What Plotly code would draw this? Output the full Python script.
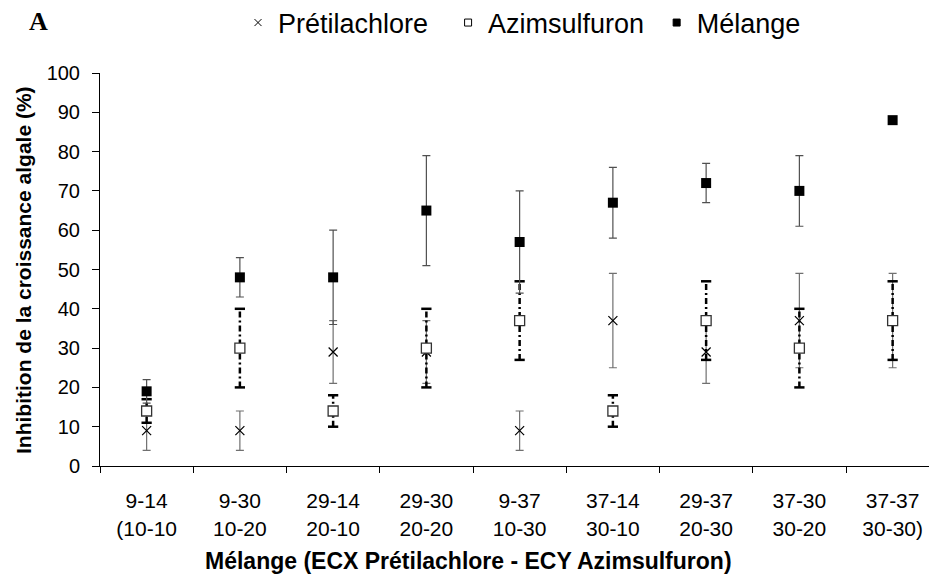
import plotly.graph_objects as go

# --- data ---
categories = ["9-14<br>(10-10", "9-30<br>10-20", "29-14<br>20-10", "29-30<br>20-20",
              "9-37<br>10-30", "37-14<br>30-10", "29-37<br>20-30", "37-30<br>30-20",
              "37-37<br>30-30)"]
pret = [9, 9, 29, 29, 9, 37, 29, 37, 37]
pret_err = [5, 5, 8, 8, 5, 12, 8, 12, 12]
azim = [14, 30, 14, 30, 37, 14, 37, 30, 37]
azim_err = [3, 10, 4, 10, 10, 4, 10, 10, 10]
mel = [19, 48, 48, 65, 57, 67, 72, 70, 88]
mel_err = [3, 5, 12, 14, 13, 9, 5, 9, None]

xs = list(range(len(categories)))
FONT = "Liberation Sans, Arial, sans-serif"
W, H = 937, 578
OFF = 8  # marge du <body> de la page html

# repères en pixels de l'image -> coordonnées papier
PL, PR, PT, PB = 100, 945, 73, 466
def px(x):
    return (x - PL) / (PR - PL)
def py(y):
    return (PB - y) / (PB - PT)

fig = go.Figure()

# Prétilachlore (croix, barres grises pleines)
fig.add_trace(go.Scatter(
    x=xs, y=pret, mode="markers", showlegend=False,
    marker=dict(symbol="x-thin-open", size=9, color="black", line=dict(width=1.2, color="black")),
    error_y=dict(type="data", array=pret_err, color="#707070", thickness=1.2, width=4),
))

# Azimsulfuron : barres d'erreur en tirets-points (tracées à la main)
cap = 0.055
seg_x, seg_y, cap_x, cap_y = [], [], [], []
for x, v, e in zip(xs, azim, azim_err):
    seg_x += [x, x, None]
    seg_y += [v - e, v + e, None]
    for yy in (v - e, v + e):
        cap_x += [x - cap, x + cap, None]
        cap_y += [yy, yy, None]
fig.add_trace(go.Scatter(x=seg_x, y=seg_y, mode="lines", showlegend=False, hoverinfo="skip",
                         line=dict(color="black", width=2.5, dash="6px,3px,2px,3px")))
fig.add_trace(go.Scatter(x=cap_x, y=cap_y, mode="lines", showlegend=False, hoverinfo="skip",
                         line=dict(color="black", width=2.5)))
fig.add_trace(go.Scatter(
    x=xs, y=azim, mode="markers", showlegend=False,
    marker=dict(symbol="square", size=10, color="white", line=dict(width=1.3, color="#333333")),
))

# Mélange
fig.add_trace(go.Scatter(
    x=xs, y=mel, mode="markers", showlegend=False,
    marker=dict(symbol="square", size=10, color="black"),
    error_y=dict(type="data", array=mel_err, color="#505050", thickness=1.2, width=4),
))

# légende (petits symboles)
for name, sym, col in [("Prétilachlore\u00a0\u00a0", "x-thin-open", "black"),
                       ("Azimsulfuron\u00a0", "square", "white"),
                       ("Mélange", "square", "black")]:
    fig.add_trace(go.Scatter(x=[None], y=[None], mode="markers", name=name,
                             marker=dict(symbol=sym, size=7, color=col,
                                         line=dict(width=1, color="black"))))

fig.update_layout(
    width=W, height=H,
    margin=dict(l=PL - OFF, r=0, t=PT - OFF, b=H - (PB - OFF), autoexpand=False),
    plot_bgcolor="white", paper_bgcolor="white",
    font=dict(family=FONT, color="black"),
    legend=dict(orientation="h", xref="container", yref="container",
                x=(238 - OFF) / W, xanchor="left", y=1 - (23 - OFF) / H, yanchor="middle",
                font=dict(size=27, family=FONT), itemclick=False),
    xaxis=dict(
        range=[-0.5, -0.5 + (PR - PL) / 93.25], tickmode="array", tickvals=xs, ticktext=categories,
        ticks="", showline=True, linecolor="black", linewidth=1, showgrid=False, zeroline=False,
        tickfont=dict(size=21, family=FONT), ticklabelstandoff=16, automargin=False,
        minor=dict(tick0=-0.5, dtick=1, ticks="outside", ticklen=6, tickcolor="black", tickwidth=1),
    ),
    yaxis=dict(
        range=[0, 100], tickmode="linear", tick0=0, dtick=10, automargin=False,
        ticks="outside", ticklen=7, tickcolor="black", showline=True, linecolor="black",
        linewidth=1, showgrid=False, zeroline=False, tickfont=dict(size=20, family=FONT),
        ticklabelstandoff=8,
    ),
    annotations=[
        dict(text="<b>Inhibition de la croissance algale (%)</b>", textangle=-90,
             xref="paper", yref="paper", x=px(23), y=py(270), xanchor="center", yanchor="middle",
             showarrow=False, font=dict(size=21, family=FONT)),
        dict(text="<b>Mélange (ECX Prétilachlore - ECY Azimsulfuron)</b>",
             xref="paper", yref="paper", x=px(468), y=py(561), xanchor="center", yanchor="middle",
             showarrow=False, font=dict(size=23, family=FONT)),
        dict(text="<b>A</b>", xref="paper", yref="paper", x=px(39), y=py(22),
             xanchor="center", yanchor="middle",
             showarrow=False, font=dict(size=26, family="Liberation Serif, serif")),
    ],
)

fig.write_html("out.html")
